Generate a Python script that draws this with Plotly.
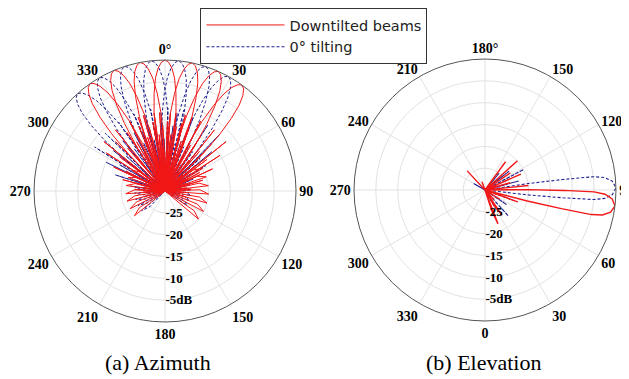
import plotly.graph_objects as go

# ---------------- data ----------------
# Azimuth (dB, relative to beam peak) – angular offsets from each beam centre
AZ_OFFSETS = [-180, -120, -100, -94, -88, -82, -70, -62, -52, -46, -40, -35, -30, -26, -22, -19, -16, -12.5,
              -11, -9.6, -8, -6.4, -4.8, -3.2, -1.6, 0, 1.6, 3.2, 4.8, 6.4, 8, 9.6, 11,
              12.5, 15, 18, 21, 25, 29, 33, 38, 44, 50, 60, 70, 82, 88, 94, 100, 120, 180]
AZ_TILTED_GAINS = [-30, -30, -30, -21, -23, -30, -25, -30, -23, -30, -20, -30, -17, -30, -14, -30, -12, -30,
                   -25, -18, -12, -7.5, -4, -1.8, -0.5, 0, -0.5, -1.8, -4, -7.5, -12, -18, -25,
                   -30, -12, -30, -15, -30, -18, -30, -21, -30, -24, -30, -25, -30, -22, -20, -30, -30, -30]
AZ_FLAT_GAINS = [-30, -30, -30, -25, -23, -30, -28, -30, -25, -30, -22, -30, -18, -30, -15, -30, -11, -30,
                 -25, -18, -12, -7.5, -4, -1.8, -0.5, 0, -0.5, -1.8, -4, -7.5, -12, -18, -25,
                 -30, -12, -30, -16, -30, -19, -30, -23, -30, -26, -30, -27, -30, -25, -24, -30, -30, -30]
AZ_TILTED_CENTERS = [-35, -23, -11, 0, 12, 24, 36]
AZ_FLAT_CENTERS = [-42, -30, -18, -6, 6, 18, 29]

# Elevation
EL_TILTED_THETA = [0, 12, 18, 21, 24, 30, 34, 38, 44, 50, 58, 64, 70,
                   74.5, 75.5, 76.3, 77, 78, 80, 83, 86, 88, 89, 89.7, 90.5, 91.5,
                   96, 100, 106, 110, 114, 118, 124, 128, 132, 136, 144, 150, 170, 200, 215, 223, 230, 360]
EL_TILTED_GAIN = [-30, -30, -25, -21.7, -30, -26, -23, -30, -27, -30, -26, -30, -22,
                  -30, -20, -12, -5, -2.5, -0.8, 0, -0.8, -2.5, -5, -12, -20, -30,
                  -20, -30, -24, -30, -21, -30, -23, -30, -20, -30, -22, -30, -30, -28, -30, -24, -30, -30]
EL_FLAT_THETA = [0, 30, 36, 42, 48, 56, 62, 70, 76,
                 82.5, 83.5, 84.3, 85, 86, 88, 91, 94, 96, 97, 97.7, 98.5, 99.5,
                 105, 110, 118, 124, 128, 134, 140, 146, 200, 240, 250, 360]
EL_FLAT_GAIN = [-30, -25, -30, -22, -30, -24, -30, -23, -30,
                -30, -20, -12, -5, -2.5, -0.8, 0, -0.8, -2.5, -5, -12, -20, -30,
                -22, -30, -20, -30, -23, -30, -25, -30, -30, -27, -30, -30]

ANG_TICKS = [0, 30, 60, 90, 120, 150, 180, 210, 240, 270, 300, 330]
AZ_TICKTEXT = ["0°", "30", "60", "90", "120", "150", "180", "210", "240", "270", "300", "330"]
EL_TICKTEXT = ["0", "30", "60", "90", "120", "150", "180°", "210", "240", "270", "300", "330"]
R_TICKS = [-25, -20, -15, -10, -5]
R_TICKTEXT = ["-25", "-20", "-15", "-10", "-5dB"]
R_RANGE = [-30, 0]

RED = "#f21818"
NAVY = "#1f1f8f"
LEG_RED = "Downtilted beams"
LEG_BLUE = "0° tilting"

fig = go.Figure()


def add_az(centers, gains, color, dash, width, name, rank):
    for i, c in enumerate(centers):
        fig.add_trace(go.Scatterpolar(
            theta=[c + o for o in AZ_OFFSETS], r=gains, mode="lines",
            line=dict(color=color, width=width, dash=dash), name=name, legendgroup=name,
            legendrank=rank, showlegend=(i == 0), subplot="polar", hoverinfo="skip"))


add_az(AZ_FLAT_CENTERS, AZ_FLAT_GAINS, NAVY, "3px,2px", 1.0, LEG_BLUE, 2)
add_az(AZ_TILTED_CENTERS, AZ_TILTED_GAINS, RED, "solid", 1.0, LEG_RED, 1)

fig.add_trace(go.Scatterpolar(theta=EL_FLAT_THETA, r=EL_FLAT_GAIN, mode="lines",
                              line=dict(color=NAVY, width=1.1, dash="3px,2px"), legendgroup=LEG_BLUE,
                              showlegend=False, subplot="polar2", hoverinfo="skip"))
fig.add_trace(go.Scatterpolar(theta=EL_TILTED_THETA, r=EL_TILTED_GAIN, mode="lines",
                              line=dict(color=RED, width=1.4), legendgroup=LEG_RED,
                              showlegend=False, subplot="polar2", hoverinfo="skip"))

tickfont = dict(family="Liberation Serif", size=14, color="black", weight="bold")
rfont = dict(family="Liberation Serif", size=13, color="black", weight="bold")


def polar_layout(xdom, ydom, rotation, direction, ticktext):
    return dict(
        domain=dict(x=xdom, y=ydom), bgcolor="white",
        angularaxis=dict(rotation=rotation, direction=direction, tickmode="array",
                         tickvals=ANG_TICKS, ticktext=ticktext, tickfont=tickfont,
                         showline=True, linecolor="#555", linewidth=1,
                         gridcolor="#e2e2e2", gridwidth=1, ticks=""),
        radialaxis=dict(range=R_RANGE, tickmode="array", tickvals=R_TICKS, ticktext=R_TICKTEXT,
                        angle=-90, tickangle=-90, side="counterclockwise", showline=False,
                        gridcolor="#e2e2e2", gridwidth=1, ticks="", tickfont=rfont),
    )


fig.update_layout(
    width=629, height=379, margin=dict(l=0, r=0, t=0, b=0),
    paper_bgcolor="white", plot_bgcolor="white",
    polar=polar_layout([0.0414, 0.4579], [0.1715, 0.8628], 90, "clockwise", AZ_TICKTEXT),
    polar2=polar_layout([0.5501, 0.9666], [0.1741, 0.8654], 270, "counterclockwise", EL_TICKTEXT),
    showlegend=True,
    legend=dict(x=0.306, y=1.0, xanchor="left", yanchor="top", bgcolor="white",
                bordercolor="#333", borderwidth=1, font=dict(family="DejaVu Sans", size=14.5, color="#222"),
                itemwidth=78, tracegroupgap=0),
    annotations=[
        dict(text="(a) Azimuth", x=150 / 629, y=1 - 354 / 379, xref="paper", yref="paper",
             xanchor="center", yanchor="middle",
             showarrow=False, font=dict(family="Liberation Serif", size=22, color="black")),
        dict(text="(b) Elevation", x=475 / 629, y=1 - 354 / 379, xref="paper", yref="paper",
             xanchor="center", yanchor="middle",
             showarrow=False, font=dict(family="Liberation Serif", size=22, color="black")),
    ],
)

fig.write_html("out.html")
